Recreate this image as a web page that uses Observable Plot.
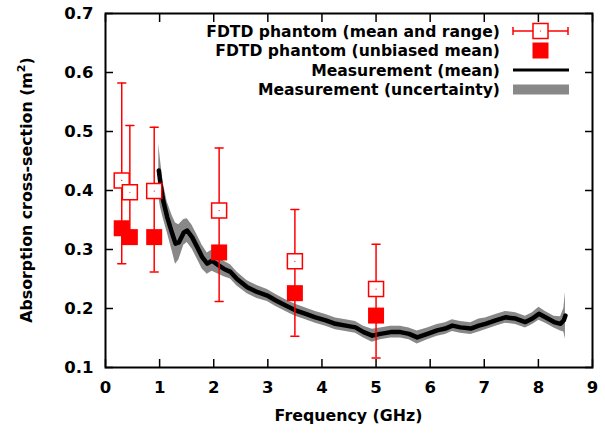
<!DOCTYPE html>
<html><head><meta charset="utf-8">
<script src="https://cdn.jsdelivr.net/npm/d3@7"></script>
<script src="https://cdn.jsdelivr.net/npm/@observablehq/plot@0.6"></script>
<style>body{margin:0;background:#fff} #chart svg{font-family:"DejaVu Sans",sans-serif;background:#fff}</style>
</head><body><div id="chart"></div>
<script>
// Tick values
const xTicks = [0, 1, 2, 3, 4, 5, 6, 7, 8, 9];
const yTicks = [0.1, 0.2, 0.3, 0.4, 0.5, 0.6, 0.7];

// FDTD phantom results
const fdtdFreq     = [0.30, 0.45, 0.90, 2.10, 3.50, 5.00];
const fdtdMean     = [0.417, 0.397, 0.399, 0.366, 0.280, 0.233];
const fdtdMin      = [0.276, 0.310, 0.262, 0.212, 0.153, 0.116];
const fdtdMax      = [0.582, 0.510, 0.507, 0.472, 0.368, 0.309];
const fdtdUnbiased = [0.336, 0.321, 0.321, 0.295, 0.226, 0.188];

// Measurement (mean) and its uncertainty half-width
const measFreq = [0.985, 1.017, 1.066, 1.14, 1.233, 1.294, 1.355, 1.447, 1.51, 1.60, 1.695, 1.787, 1.88, 1.97, 2.09, 2.19, 2.31, 2.43, 2.62, 2.80, 2.99, 3.14, 3.33, 3.51, 3.70, 3.88, 4.07, 4.25, 4.44, 4.62, 4.77, 4.93, 5.08, 5.27, 5.45, 5.61, 5.76, 5.95, 6.13, 6.28, 6.41, 6.56, 6.75, 6.90, 7.02, 7.21, 7.39, 7.58, 7.76, 7.89, 8.01, 8.13, 8.29, 8.41, 8.47, 8.50];
const measMean = [0.434, 0.411, 0.383, 0.355, 0.327, 0.310, 0.312, 0.329, 0.332, 0.321, 0.304, 0.287, 0.276, 0.281, 0.273, 0.267, 0.262, 0.250, 0.236, 0.228, 0.222, 0.214, 0.205, 0.197, 0.191, 0.185, 0.180, 0.174, 0.171, 0.168, 0.160, 0.154, 0.157, 0.160, 0.160, 0.157, 0.151, 0.157, 0.163, 0.166, 0.171, 0.168, 0.166, 0.171, 0.174, 0.180, 0.185, 0.183, 0.177, 0.183, 0.191, 0.185, 0.177, 0.174, 0.180, 0.188];
const measUnc  = [0.045, 0.040, 0.030, 0.026, 0.030, 0.035, 0.030, 0.022, 0.020, 0.020, 0.020, 0.020, 0.018, 0.018, 0.015, 0.013, 0.012, 0.012, 0.011, 0.011, 0.010, 0.010, 0.010, 0.010, 0.010, 0.010, 0.010, 0.010, 0.010, 0.010, 0.010, 0.011, 0.010, 0.010, 0.010, 0.010, 0.011, 0.010, 0.010, 0.010, 0.010, 0.010, 0.010, 0.011, 0.010, 0.010, 0.010, 0.010, 0.010, 0.010, 0.011, 0.010, 0.010, 0.012, 0.020, 0.040];

const legendLabels = ["FDTD phantom (mean and range)", "FDTD phantom (unbiased mean)", "Measurement (mean)", "Measurement (uncertainty)"];

const fdtd = fdtdFreq.map((f, i) => ({f, mean: fdtdMean[i], lo: fdtdMin[i], hi: fdtdMax[i], ub: fdtdUnbiased[i]}));
const meas = measFreq.map((f, i) => ({f, m: measMean[i], lo: measMean[i] - measUnc[i], hi: measMean[i] + measUnc[i]}));

const capShape = {draw(ctx, l) { ctx.moveTo(0, 0); ctx.lineTo(0, -l); }};
const RED = "#ff0000";
const sqR = s => s / Math.sqrt(Math.PI);

const chart = Plot.plot({
  width: 605, height: 433,
  marginLeft: 105, marginRight: 13, marginTop: 13, marginBottom: 66,
  x: {domain: [0, 9]},
  y: {domain: [0.1, 0.7]},
  marks: [
    Plot.areaY(meas, {x: "f", y1: "lo", y2: "hi", fill: "#888888", curve: "linear"}),
    Plot.line(meas, {x: "f", y: "m", stroke: "black", strokeWidth: 4.5}),
    Plot.ruleX(fdtd, {x: "f", y1: "lo", y2: "hi", stroke: RED, strokeWidth: 1.5}),
    Plot.vector(fdtd, {x: "f", y: "lo", length: 8, rotate: 90, anchor: "middle", shape: capShape, stroke: RED, strokeWidth: 1.5}),
    Plot.vector(fdtd, {x: "f", y: "hi", length: 8, rotate: 90, anchor: "middle", shape: capShape, stroke: RED, strokeWidth: 1.5}),
    Plot.dot(fdtd, {x: "f", y: "mean", symbol: "square", r: sqR(15), stroke: RED, strokeWidth: 1.5, fill: "white"}),
    Plot.dot(fdtd, {x: "f", y: "mean", r: 0.6, fill: RED, stroke: "none"}),
    Plot.dot(fdtd, {x: "f", y: "ub", symbol: "square", r: sqR(16), fill: RED, stroke: "none"}),
    Plot.frame({stroke: "black", strokeWidth: 2}),
    Plot.axisX({ticks: xTicks, anchor: "bottom", tickSize: -8, tickPadding: 22, tickFormat: d => String(d), fontSize: 16.5, fontWeight: "bold", label: null, strokeWidth: 1.5}),
    Plot.axisX({ticks: xTicks, anchor: "top", tickSize: -8, tickFormat: () => "", label: null, strokeWidth: 1.5}),
    Plot.axisY({ticks: yTicks, anchor: "left", tickSize: -8, tickPadding: 20, tickFormat: d3.format(".1f"), fontSize: 16.5, fontWeight: "bold", label: null, strokeWidth: 1.5}),
    Plot.axisY({ticks: yTicks, anchor: "right", tickSize: -8, tickFormat: () => "", label: null, strokeWidth: 1.5})
  ]
});
document.getElementById("chart").appendChild(chart);

const svg = d3.select(chart);
const xs = chart.scale("x"), ys = chart.scale("y");
const cx = (xs.range[0] + xs.range[1]) / 2;
const cy = (ys.range[0] + ys.range[1]) / 2;

// Axis titles
svg.append("text").attr("x", cx).attr("y", 421).attr("text-anchor", "middle")
  .attr("font-size", 15.8).attr("font-weight", "bold").attr("fill", "black").text("Frequency (GHz)");
const yt = svg.append("text").attr("transform", `translate(32,${cy}) rotate(-90)`).attr("text-anchor", "middle")
  .attr("font-size", 15.8).attr("font-weight", "bold").attr("fill", "black");
yt.append("tspan").text("Absorption cross-section (m");
yt.append("tspan").attr("font-size", 11).attr("dy", -7).text("2");
yt.append("tspan").attr("dy", 7).text(")");

// Legend
const lg = svg.append("g").attr("font-size", 15.6).attr("font-weight", "bold");
const rowY = [31, 50.5, 70, 89.5];
legendLabels.forEach((t, i) => {
  lg.append("text").attr("x", 500).attr("y", rowY[i]).attr("dy", "0.36em").attr("text-anchor", "end").attr("fill", "black").text(t);
});
const sx0 = 513, sx1 = 568, sxc = 540.5;
// row 0: error bar + open square
lg.append("line").attr("x1", sx0).attr("x2", sx1).attr("y1", rowY[0]).attr("y2", rowY[0]).attr("stroke", RED).attr("stroke-width", 1.5);
[sx0, sx1].forEach(x => lg.append("line").attr("x1", x).attr("x2", x).attr("y1", rowY[0] - 4).attr("y2", rowY[0] + 4).attr("stroke", RED).attr("stroke-width", 1.5));
lg.append("rect").attr("x", sxc - 7.5).attr("y", rowY[0] - 7.5).attr("width", 15).attr("height", 15).attr("fill", "white").attr("stroke", RED).attr("stroke-width", 1.5);
lg.append("circle").attr("cx", sxc).attr("cy", rowY[0]).attr("r", 0.6).attr("fill", RED);
// row 1: filled square
lg.append("rect").attr("x", sxc - 8).attr("y", rowY[1] - 8).attr("width", 16).attr("height", 16).attr("fill", RED);
// row 2: black line
lg.append("line").attr("x1", sx0).attr("x2", sx1 + 1).attr("y1", rowY[2]).attr("y2", rowY[2]).attr("stroke", "black").attr("stroke-width", 3);
// row 3: gray band
lg.append("rect").attr("x", sx0).attr("y", rowY[3] - 5).attr("width", sx1 - sx0 + 1).attr("height", 10).attr("fill", "#888888");
</script>
</body></html>
